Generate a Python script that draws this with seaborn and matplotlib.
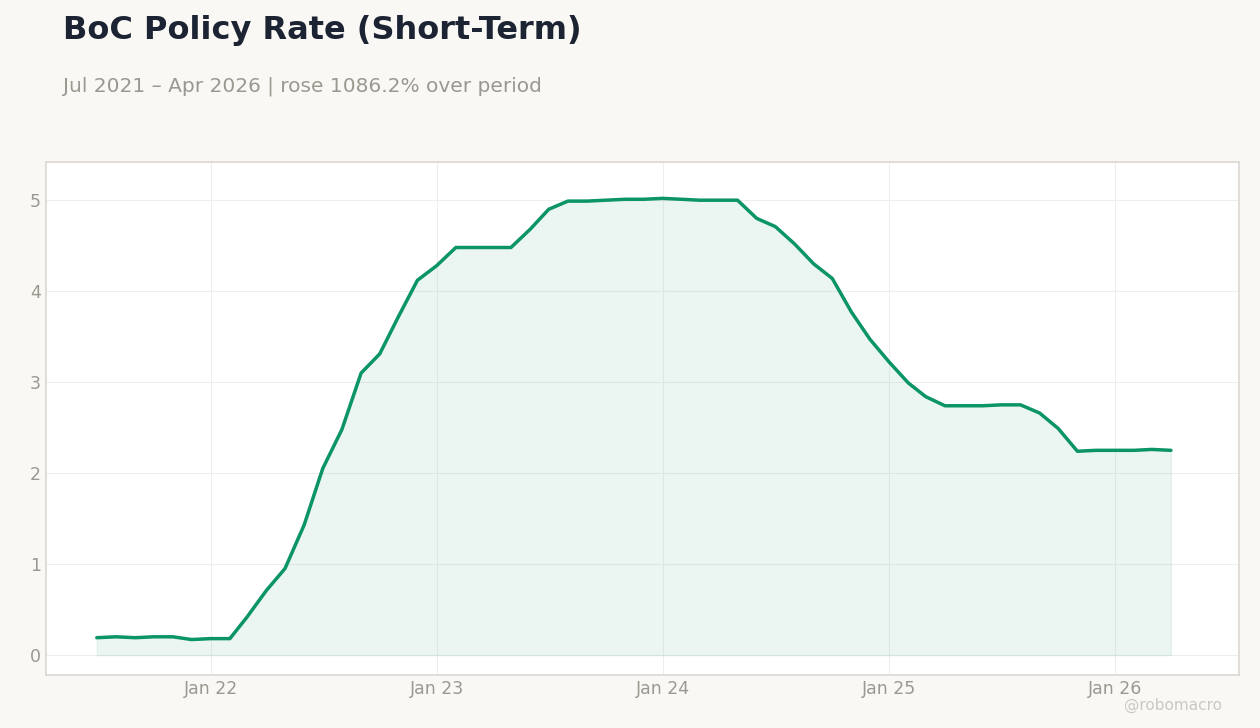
import matplotlib
matplotlib.use("Agg")
import matplotlib.pyplot as plt
import seaborn as sns
import pandas as pd
import numpy as np

dates = pd.date_range("2021-07-01", "2026-04-01", freq="MS")
rates = [0.19,0.20,0.19,0.20,0.20,0.17,0.18,0.18,0.42,0.71,0.95,1.43,2.05,2.48,3.10,3.31,3.73,4.12,
         4.28,4.48,4.48,4.48,4.48,4.68,4.90,4.99,4.99,5.00,5.01,5.01,5.02,5.01,5.00,5.00,5.00,4.80,
         4.71,4.52,4.30,4.14,3.77,3.47,3.22,2.99,2.84,2.74,2.74,2.74,2.75,2.75,2.66,2.49,2.24,2.25,
         2.25,2.25,2.26,2.25]
tick_dates = pd.to_datetime(["2022-01-01","2023-01-01","2024-01-01","2025-01-01","2026-01-01"])
tick_labels = ["Jan 22","Jan 23","Jan 24","Jan 25","Jan 26"]
df = pd.DataFrame({"date": dates, "rate": rates})

sns.set_theme(style="white")
plt.rcParams['font.family'] = ['DejaVu Sans']
fig = plt.figure(figsize=(12.6, 7.28), dpi=100, facecolor="#f9f8f5")
ax = fig.add_axes([46/1260, 1-675/728, (1239-46)/1260, (675-162)/728])
ax.set_facecolor("white")
green = "#0a9467"
ax.fill_between(df["date"], df["rate"], 0, color=green, alpha=0.08)
sns.lineplot(data=df, x="date", y="rate", ax=ax, color=green, linewidth=2.5)
ax.set_xlim(pd.Timestamp("2021-04-10"), pd.Timestamp("2026-07-20"))
ax.set_ylim(-0.22, 5.42)
ax.set_xticks(tick_dates)
ax.set_xticklabels(tick_labels)
ax.set_yticks([0,1,2,3,4,5])
ax.grid(True, color="#eeeeee", linewidth=0.8)
ax.tick_params(colors="#999990", labelsize=12.5, length=0)
ax.set_xlabel(""); ax.set_ylabel("")
for s in ax.spines.values():
    s.set_color("#dddad5")
fig.text(63/1260, 1-30/728, "BoC Policy Rate (Short-Term)", fontsize=23, fontweight="bold", color="#1c2333", va="center")
fig.text(63/1260, 1-86/728, "Jul 2021 – Apr 2026 | rose 1086.2% over period", fontsize=14.5, color="#999990", va="center")
fig.text(1222/1260, 1-705/728, "@robomacro", fontsize=11, color="#c8c8c4", ha="right", va="center")
fig.savefig("out.png", dpi=100, facecolor=fig.get_facecolor())
